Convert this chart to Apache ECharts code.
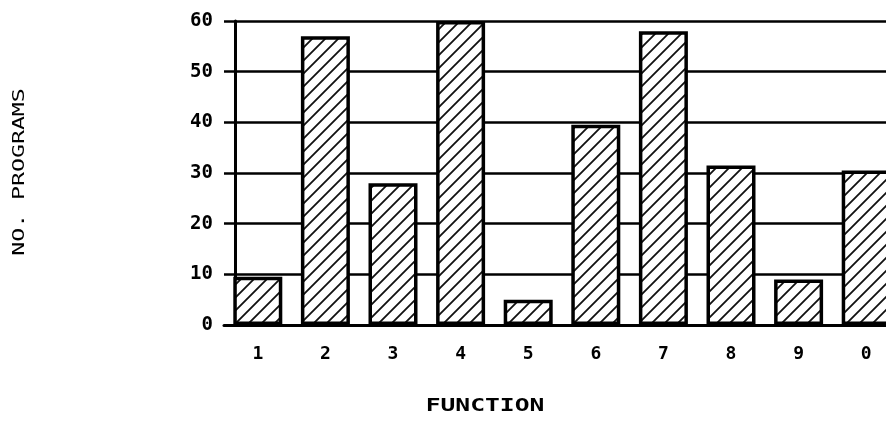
<!DOCTYPE html>
<html>
<head>
<meta charset="utf-8">
<script src="https://cdn.jsdelivr.net/npm/echarts@6/dist/echarts.min.js"></script>
<style>
    html, body { margin: 0; padding: 0; background: #fff; }
    #chart { width: 886px; height: 422px; }
</style>
</head>
<body>
<div id="chart"></div>
<script>
    // data
    const functions = ['1', '2', '3', '4', '5', '6', '7', '8', '9', '0'];
    const programCounts = [9.5, 57, 28, 60, 5, 39.5, 58, 31.5, 9, 30.5];
    const yTicks = [0, 10, 20, 30, 40, 50, 60];

    // diagonal hatch tile, lines run "/"
    function hatchTile() {
        const s = 13;
        const c = document.createElement('canvas');
        c.width = s;
        c.height = s;
        const ctx = c.getContext('2d');
        ctx.fillStyle = '#fff';
        ctx.fillRect(0, 0, s, s);
        ctx.strokeStyle = '#111';
        ctx.lineWidth = 1.8;
        ctx.beginPath();
        ctx.moveTo(-2, s + 2); ctx.lineTo(s + 2, -2);
        ctx.moveTo(-2, 2); ctx.lineTo(2, -2);
        ctx.moveTo(s - 2, s + 2); ctx.lineTo(s + 2, s - 2);
        ctx.stroke();
        return c;
    }

    const fontFam = '"DejaVu Sans Mono", monospace';
    const chart = echarts.init(document.getElementById('chart'));
    chart.setOption({
        backgroundColor: '#fff',
        animation: false,
        grid: { left: 224, top: 21, width: 676, height: 304, outerBoundsMode: 'none' },
        xAxis: {
            type: 'category',
            data: functions,
            axisLine: { lineStyle: { color: '#000', width: 3 } },
            axisTick: { alignWithLabel: true, length: 9, lineStyle: { color: '#000', width: 2.5 } },
            axisLabel: { color: '#000', fontFamily: fontFam, fontSize: 18, fontWeight: 'bold', margin: 20 }
        },
        yAxis: {
            type: 'value',
            min: yTicks[0],
            max: yTicks[yTicks.length - 1],
            interval: 10,
            offset: -11,
            axisLine: { show: true, lineStyle: { color: '#000', width: 3 } },
            axisTick: { show: false },
            axisLabel: { color: '#000', fontFamily: fontFam, fontSize: 19, fontWeight: 'bold', margin: 22 },
            splitLine: { show: true, lineStyle: { color: '#000', width: 2.5 } }
        },
        series: [{
            type: 'bar',
            data: programCounts,
            barWidth: 49,
            itemStyle: {
                color: { image: hatchTile(), repeat: 'repeat' },
                borderColor: '#000',
                borderWidth: 3.5
            }
        }],
        graphic: [
            {
                type: 'text',
                x: 485, y: 407,
                scaleX: 1.45,
                style: {
                    text: 'FUNCTION', fill: '#000',
                    font: 'bold 17px ' + fontFam,
                    align: 'center', verticalAlign: 'middle'
                }
            },
            {
                type: 'text',
                x: 20, y: 172,
                rotation: Math.PI / 2,
                scaleX: 1.45,
                style: {
                    text: 'NO. PROGRAMS', fill: '#000',
                    font: '16px ' + fontFam,
                    align: 'center', verticalAlign: 'middle'
                }
            }
        ]
    });
</script>
</body>
</html>
